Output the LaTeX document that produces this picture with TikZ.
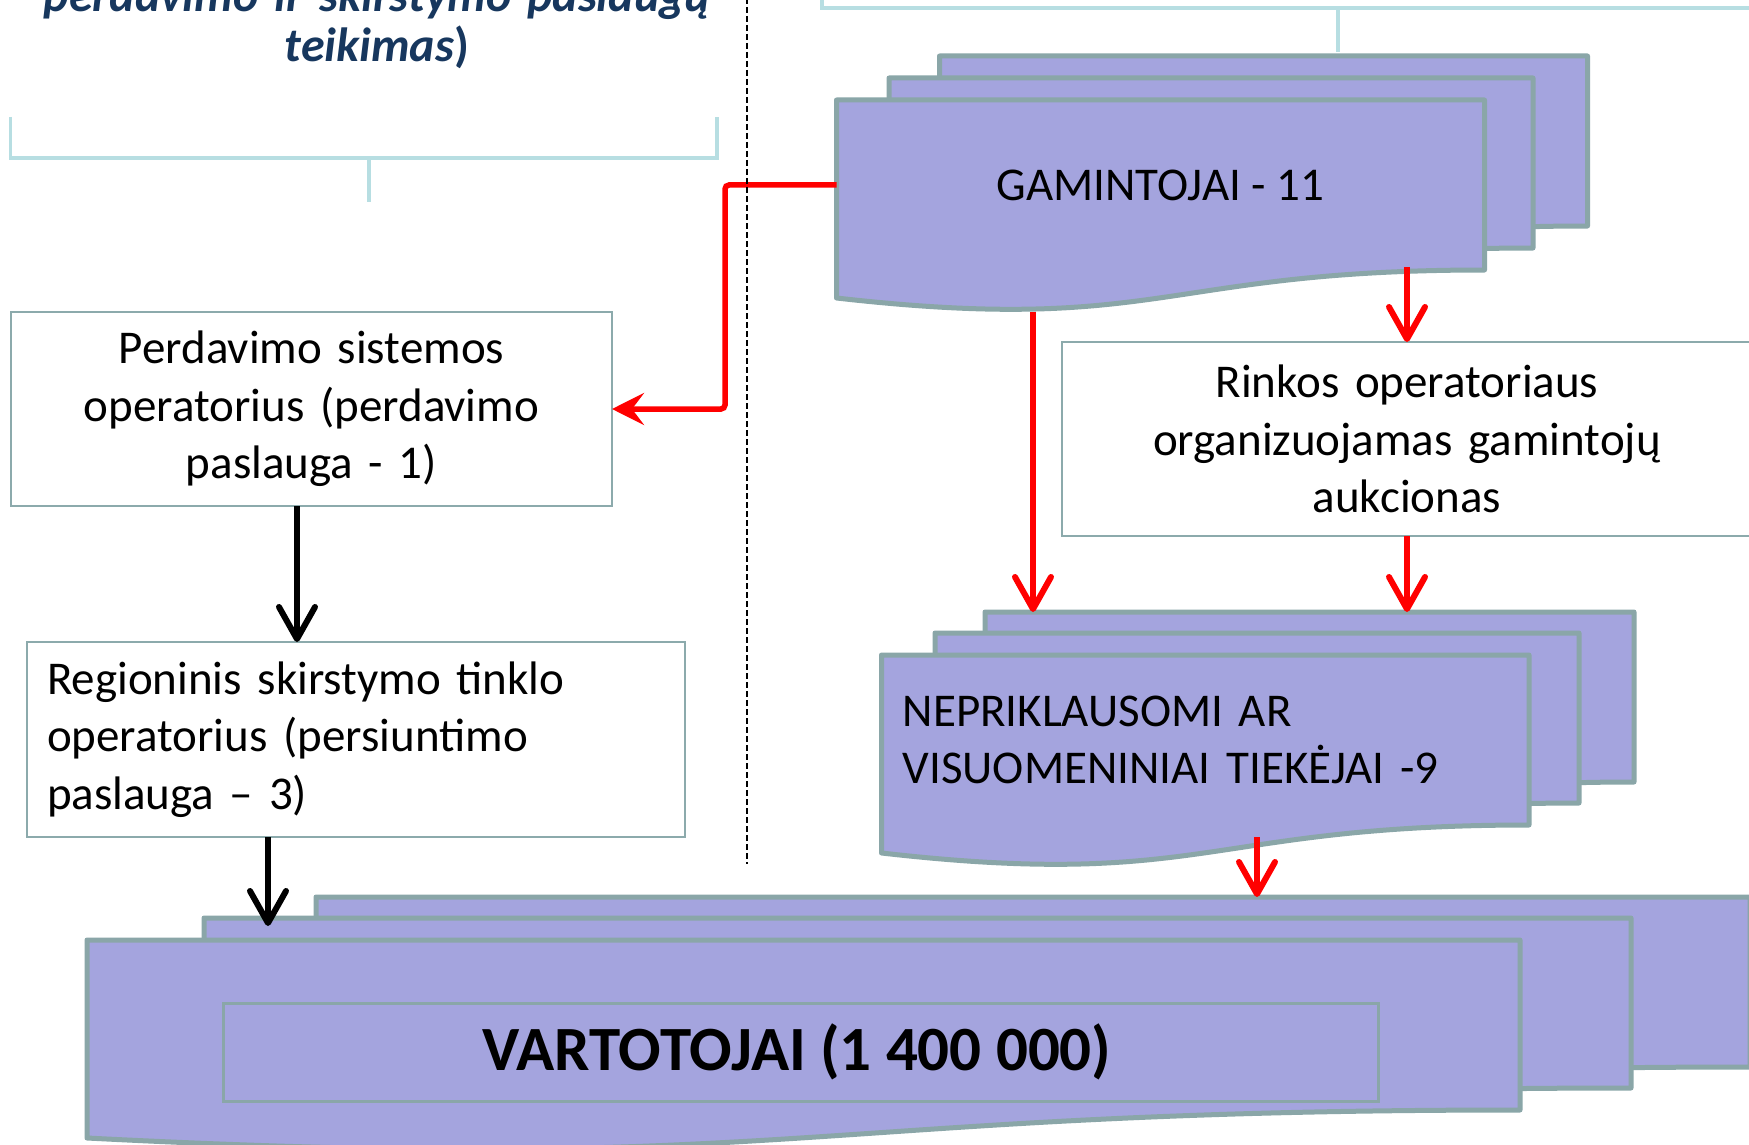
\documentclass[tikz,border=0pt]{standalone}
\usepackage{fontspec}
\setmainfont{Carlito}
\usetikzlibrary{arrows.meta,calc}
\definecolor{docfill}{RGB}{164,164,222}
\definecolor{docline}{RGB}{138,166,168}
\definecolor{boxline}{RGB}{140,170,172}
\definecolor{brk}{RGB}{183,222,226}
\definecolor{titleblue}{RGB}{23,55,94}
\tikzset{
  docstyle/.style={fill=docfill, draw=docline, line width=5pt, line join=round},
  docbox/.style={rectangle, inner sep=0pt, outer sep=0pt, minimum height=170pt, font=\fontsize{47}{57.5}\selectfont},
  wbox/.style={rectangle, draw=boxline, line width=2.5pt, fill=white, inner sep=0pt, outer sep=0pt, font=\fontsize{47}{57.5}\selectfont},
  brkln/.style={draw=brk, line width=3.5pt},
  redarr/.style={draw=red, line width=6pt, -{Straight Barb[length=32pt,width=36pt,round]}},
  redstealth/.style={draw=red, line width=5.5pt, -{Stealth[length=32pt,width=32pt,inset=12pt]}},
  blkarr/.style={draw=black, line width=6pt, -{Straight Barb[length=32pt,width=36pt,round]}},
  sepline/.style={draw=black, line width=2pt, dash pattern=on 6pt off 3pt}
}
% #1 node options, #2 name, #3 x, #4 y (top), #5 width, #6 text
\newcommand\docshape[6][]{%
  \filldraw[docstyle] (#3,#4) -- ({#3+#5},#4) -- ({#3+#5},{#4+170})
    .. controls ({#3+0.5*#5},{#4+170}) and ({#3+0.5*#5},{#4+234.8}) .. (#3,{#4+198}) -- cycle;
  \node[docbox, minimum width=#5pt, anchor=north west, #1] (#2) at (#3,#4) {#6};}
\begin{document}
\begin{tikzpicture}[x=1pt,y=-1pt]
\useasboundingbox (0,0) rectangle (1749,1145);
\clip (0,0) rectangle (1749,1145);
\fill[white] (0,0) rectangle (1749,1145);

% title (cut at top)
\node[anchor=base, text width=760pt, align=center, inner sep=0pt, text=titleblue,
  font=\fontsize{48}{50}\selectfont\bfseries\itshape] (title) at (377,12)
  {perdavimo ir skirstymo paslaugų\\ teikimas\textup{)}};

% brackets
\draw[brkln] (10.7,117) -- (10.7,158) -- (717,158) -- (717,117);
\draw[brkln] (369,158) -- (369,202);
\draw[brkln] (822,-5) -- (822,8) -- (1760,8);
\draw[brkln] (1338,8) -- (1338,52);

% GAMINTOJAI stack
\docshape{gb}{939.5}{56}{648}{}
\docshape{gm}{889}{78}{644}{}
\docshape{gf}{836.5}{100}{648}{GAMINTOJAI - 11}

% NEPRIKLAUSOMI stack
\docshape{nb}{985}{612}{649}{}
\docshape{nm}{935}{633}{644}{}
\docshape[text width=605pt, align=left]{nf}{881.5}{655}{647.5}{NEPRIKLAUSOMI AR\\ VISUOMENINIAI TIEKĖJAI -9}

% VARTOTOJAI stack
\docshape{vb}{316}{897}{1434}{}
\docshape{vm}{204}{918}{1427}{}
\docshape{vf}{87}{940}{1433}{}
\node[rectangle, draw=docline, line width=3pt, inner sep=0pt, outer sep=0pt,
  minimum width=1155pt, minimum height=98pt, anchor=north west,
  font=\fontsize{63}{70}\selectfont\bfseries] (vart) at (223,1003) {\hspace*{-7pt}VARTOTOJAI (1 400 000)};

% white boxes
\node[wbox, minimum width=601pt, minimum height=194pt, text width=580pt, align=center, anchor=north west]
  (per) at (11,312) {Perdavimo sistemos\\ operatorius (perdavimo\\ paslauga - 1)};
\node[wbox, minimum width=658pt, minimum height=195pt, text width=618pt, align=left, anchor=north west]
  (reg) at (27,642) {Regioninis skirstymo tinklo\\ operatorius (persiuntimo\\ paslauga – 3)};
\node[wbox, minimum width=690pt, minimum height=194pt, text width=640pt, align=center, anchor=north west]
  (rin) at (1062,342) {Rinkos operatoriaus\\ organizuojamas gamintojų\\ aukcionas};

% connectors
\draw[redstealth, rounded corners=4pt] (gf.west) -| ([xshift=113pt]per.east) -- (per.east);
\draw[redarr] ([yshift=3pt]gf.south -| rin.north) -- (rin.north);
\coordinate (g2) at ([xshift=196.5pt,yshift=-42pt]gf.south west);
\draw[redarr] (g2) -- (g2 |- nb.north);
\draw[redarr] (rin.south) -- (rin.south |- nb.north);
\coordinate (n2) at ([xshift=375.5pt,yshift=-12pt]nf.south west);
\draw[redarr] (n2) -- (n2 |- vb.north);
\coordinate (p2) at ([xshift=286pt]per.south west);
\draw[blkarr] (p2) -- (p2 |- reg.north);
\coordinate (r2) at ([xshift=241pt]reg.south west);
\draw[blkarr] (r2) -- ($(r2 |- vm.north)+(0,8)$);

% dashed separator
\draw[sepline] (747,-2) -- (747,864);
\end{tikzpicture}
\end{document}
